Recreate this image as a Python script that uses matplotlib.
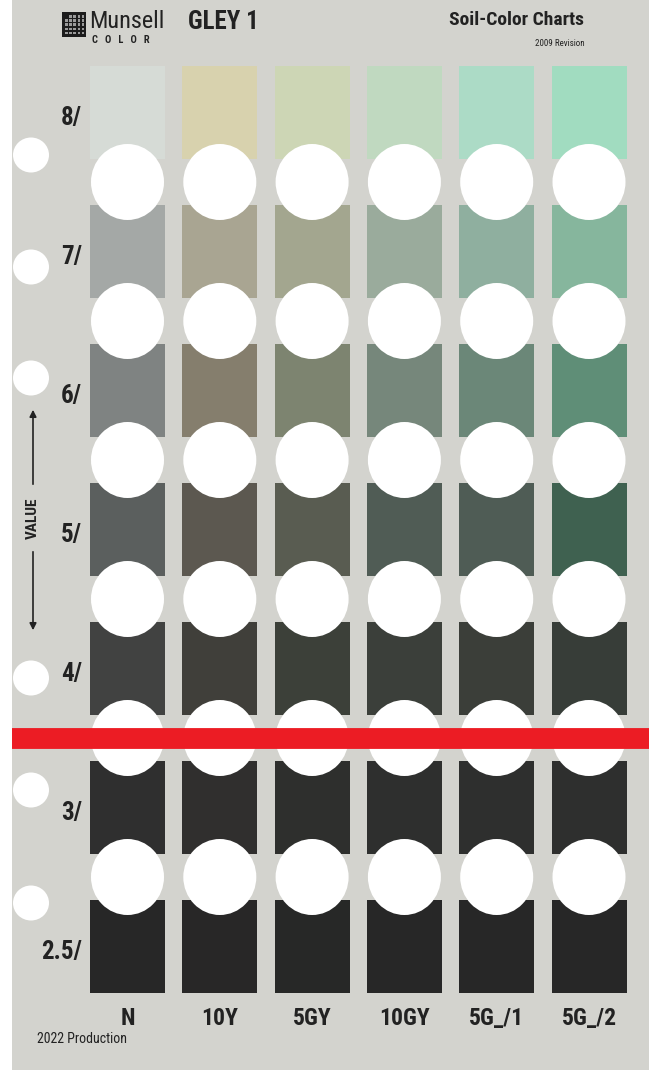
import matplotlib
matplotlib.use('Agg')
import matplotlib.pyplot as plt
from matplotlib.patches import Ellipse, Rectangle
from matplotlib import font_manager

# Munsell GLEY 1 page: hues across, values down
hues = ['N', '10Y', '5GY', '10GY', '5G_/1', '5G_/2']
values = ['8/', '7/', '6/', '5/', '4/', '3/', '2.5/']

# chip colours, one list per value row (left to right = hues)
chips_8 = ['#d6dbd6', '#d8d2ae', '#cdd6b5', '#c0d9c0', '#acdbc6', '#a1dcc0']
chips_7 = ['#a4a8a6', '#a9a592', '#a3a68f', '#9aab9c', '#8faf9f', '#86b69d']
chips_6 = ['#7f8382', '#857e6d', '#7d8470', '#76877b', '#6b8778', '#5f8e77']
chips_5 = ['#5b5f5e', '#5c5850', '#595c51', '#505c55', '#4f5c55', '#3f6150']
chips_4 = ['#414241', '#403f3a', '#3c4039', '#3b3f3a', '#3b3e39', '#373d38']
chips_3 = ['#2f2f2f', '#302f2e', '#2e2f2d', '#2e2f2e', '#2e2f2e', '#2e2f2e']
chips_25 = ['#272727', '#282727', '#272827', '#272727', '#272727', '#272727']
rows = [chips_8, chips_7, chips_6, chips_5, chips_4, chips_3, chips_25]

card = '#d3d3ce'
ink = '#222222'

# look for a condensed face, otherwise plain DejaVu
names = {f.name for f in font_manager.fontManager.ttflist}
condensed = [n for n in ['Liberation Sans Narrow', 'Roboto Condensed', 'Open Sans Condensed',
                         'DejaVu Sans Condensed'] if n in names]
stretchy = any(f.name == 'DejaVu Sans' and f.stretch == 'condensed'
               for f in font_manager.fontManager.ttflist)
narrow = condensed[:1] + ['DejaVu Sans']
is_narrow = bool(condensed) or stretchy
k = 1.0 if is_narrow else 0.8  # shrink text if only the wide face exists

W, H = 649, 1070
fig = plt.figure(figsize=(W / 100, H / 100), dpi=100)
fig.patch.set_facecolor(card)

# main axes: x = hue index, y = value row index (page pixels -> units)
col_px, row_px = 92.3, 139.0
x0_px, y0_px = 127.5, 112.5
ax = fig.add_axes([0, 0, 1, 1])
ax.set_xlim(-x0_px / col_px, (W - x0_px) / col_px)
ax.set_ylim((H - y0_px) / row_px, -y0_px / row_px)
ax.set_facecolor(card)
ax.axis('off')

chip_w = 75 / col_px
chip_h = 93 / row_px
for j, colors in enumerate(rows):
    ax.bar(range(len(hues)), chip_h, bottom=j - chip_h / 2, width=chip_w,
           color=colors, zorder=2)

# punched viewing holes between the rows
for j in range(len(values) - 1):
    for i in range(len(hues)):
        ax.add_patch(Ellipse((i, j + 0.5), 73 / col_px, 76 / row_px,
                             facecolor='white', edgecolor='none', zorder=3))

# red line under 4/
ax.axhline(4.5, xmin=12 / W, xmax=1, color='#ec1c24', lw=15, zorder=4)

tk = dict(family=narrow, fontstretch='condensed', color=ink)
for j, v in enumerate(values):
    ax.text(-0.493, j + 0.04, v, ha='right', va='center', fontsize=18 * k,
            fontweight='bold', **tk)
for i, h in enumerate(hues):
    ax.text(i, 6.52, h, ha='center', va='center', fontsize=17 * k,
            fontweight='bold', **tk)

# overlay in page pixels for the card decorations
deco = fig.add_axes([0, 0, 1, 1])
deco.set_xlim(0, W)
deco.set_ylim(H, 0)
deco.axis('off')
deco.patch.set_alpha(0)

deco.add_patch(Rectangle((0, 0), 12, H, facecolor='white', edgecolor='none'))
for hy in [155, 267, 378, 678, 790, 903]:
    deco.add_patch(Ellipse((31, hy), 36, 35, facecolor='white', edgecolor='none'))

# logo
deco.add_patch(Rectangle((62, 12), 24, 25, facecolor='#1c1c1c', edgecolor='none'))
for a in range(5):
    for b in range(5):
        if a == 0 and b == 0:
            continue
        deco.add_patch(Rectangle((65 + a * 4.2, 15 + b * 4.2), 2.6, 2.6,
                                 facecolor='#9a9a9a', edgecolor='none'))
deco.text(89, 22, 'Munsell', ha='left', va='center', fontsize=17.5 * k, **tk)
deco.text(92, 40, 'C   O   L   O   R', ha='left', va='center', fontsize=7.5,
          fontweight='bold', **tk)
deco.text(188, 22, 'GLEY 1', ha='left', va='center', fontsize=18 * k,
          fontweight='bold', **tk)
deco.text(584, 20, 'Soil-Color Charts', ha='right', va='center', fontsize=14 * k,
          fontweight='bold', **tk)
deco.text(585, 43, '2009 Revision', ha='right', va='center', fontsize=6.5 * k, **tk)
deco.text(37, 1039, '2022 Production', ha='left', va='center', fontsize=10 * k, **tk)

# VALUE arrow
deco.text(33, 518, 'VALUE', ha='center', va='center', rotation=90, fontsize=11 * k,
          fontweight='bold', **tk)
arrow = dict(arrowstyle='-|>', color=ink, lw=1.2, mutation_scale=10)
deco.annotate('', xy=(33, 407), xytext=(33, 487), arrowprops=arrow)
deco.annotate('', xy=(33, 633), xytext=(33, 549), arrowprops=arrow)

fig.savefig('out.png', dpi=100, facecolor=card)
